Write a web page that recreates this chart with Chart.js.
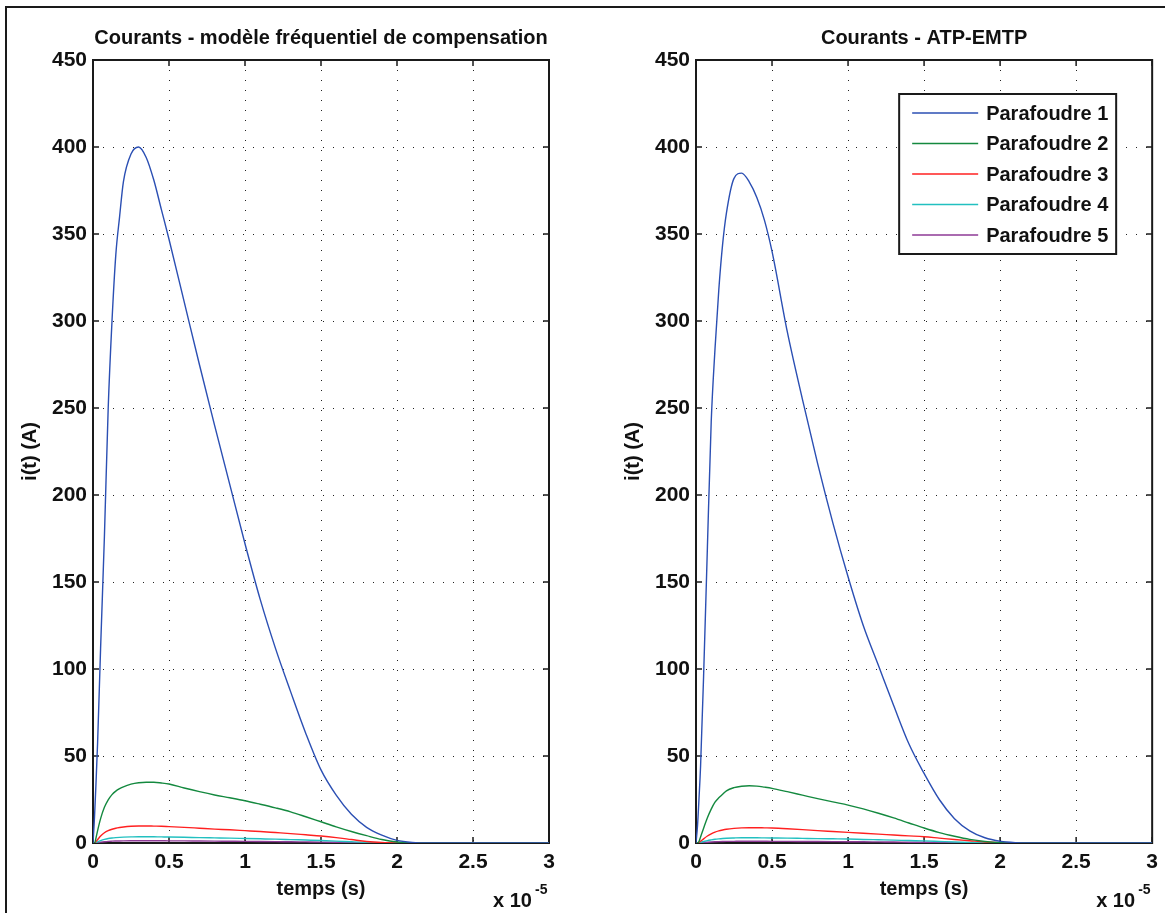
<!DOCTYPE html>
<html>
<head>
<meta charset="utf-8">
<script src="https://cdn.jsdelivr.net/npm/chart.js@4/dist/chart.umd.min.js"></script>
<style>
  html, body { margin: 0; padding: 0; background: #fff; }
  body { width: 1165px; height: 913px; position: relative; overflow: hidden; }
  #frame { position: absolute; left: 5px; top: 6px; width: 1200px; height: 1000px;
           border-top: 2px solid #1a1a1a; border-left: 2px solid #1a1a1a; }
  .pane { position: absolute; top: 0; height: 913px; }
  #left { left: 0; width: 600px; }
  #right { left: 600px; width: 565px; }
</style>
</head>
<body>
<div id="frame"></div>
<div class="pane" id="left"><canvas id="c1"></canvas></div>
<div class="pane" id="right"><canvas id="c2"></canvas></div>
<script>
// temps en unités de 1e-5 s
const temps = [0, 0.01, 0.02, 0.03, 0.05, 0.075, 0.1, 0.125, 0.15, 0.175, 0.2, 0.25, 0.3, 0.35, 0.4, 0.45, 0.5,
  0.6, 0.7, 0.8, 0.9, 1.0, 1.1, 1.2, 1.3, 1.4, 1.5, 1.6, 1.7, 1.8, 1.9, 2.0, 2.1, 2.2, 3.0];

const noms = ["Parafoudre 1", "Parafoudre 2", "Parafoudre 3", "Parafoudre 4", "Parafoudre 5"];
const couleurs = ["#2b4fb3", "#14893f", "#ff2020", "#22c0c0", "#8e3a96"];

// modèle fréquentiel de compensation
const freqP1 = [0, 15, 35, 57, 112, 176, 250, 300, 338, 360, 380, 396, 400, 394, 381, 364, 347,
  311, 275, 240, 206, 172, 140, 112, 87, 63, 42, 27.5, 16.5, 9, 4.5, 1.5, 0.3, 0, 0];
const freqP2 = [0, 0, 3, 7, 14, 20.5, 24.8, 27.8, 29.8, 31.2, 32.3, 33.8, 34.6, 34.9, 34.9, 34.5, 33.9,
  31.6, 29.5, 27.6, 26.0, 24.3, 22.3, 20.2, 17.9, 15.1, 12.2, 9.3, 6.6, 4.2, 2.0, 0.6, 0.1, 0, 0];
const freqP3 = [0, 0, 0.8, 1.9, 4.0, 5.9, 7.1, 7.9, 8.5, 8.9, 9.2, 9.6, 9.8, 9.8, 9.7, 9.6, 9.4,
  9.0, 8.5, 8.0, 7.6, 7.1, 6.6, 6.0, 5.4, 4.7, 4.0, 3.1, 2.0, 0.9, 0.3, 0.05, 0, 0, 0];
const freqP4 = [0, 0, 0.3, 0.7, 1.4, 2.1, 2.6, 2.9, 3.1, 3.25, 3.35, 3.5, 3.6, 3.6, 3.55, 3.5, 3.45,
  3.3, 3.1, 2.95, 2.8, 2.6, 2.4, 2.2, 1.95, 1.7, 1.45, 1.1, 0.7, 0.35, 0.15, 0.05, 0, 0, 0];
const freqP5 = [0, 0, 0.1, 0.25, 0.5, 0.75, 0.95, 1.05, 1.12, 1.18, 1.22, 1.27, 1.3, 1.3, 1.29, 1.27, 1.25,
  1.2, 1.13, 1.07, 1.01, 0.95, 0.88, 0.8, 0.7, 0.62, 0.53, 0.4, 0.26, 0.13, 0.05, 0.02, 0, 0, 0];

// ATP-EMTP
const atpP1 = [0, 10, 26, 44, 96, 170, 242, 284, 318, 344, 362, 382, 385, 380, 371, 358, 340,
  294, 255, 218, 184, 153, 125, 102, 79, 57, 40, 25, 14, 7, 3, 1, 0.2, 0, 0];
const atpP2 = [0, 0, 1, 3.5, 8.5, 14.5, 19.5, 23.5, 26, 28, 30, 31.8, 32.6, 32.9, 32.7, 32.1, 31.4,
  29.5, 27.5, 25.5, 23.6, 21.8, 19.6, 17.1, 14.4, 11.5, 8.6, 6.0, 3.9, 2.1, 0.9, 0.2, 0, 0, 0];
const atpP3 = [0, 0, 0.4, 1.0, 2.4, 4, 5.3, 6.3, 7, 7.5, 7.9, 8.4, 8.7, 8.8, 8.8, 8.7, 8.6,
  8.2, 7.7, 7.1, 6.6, 6.1, 5.6, 5.1, 4.6, 4.1, 3.6, 2.8, 2.0, 1.3, 0.6, 0.2, 0, 0, 0];
const atpP4 = [0, 0, 0.15, 0.4, 0.85, 1.4, 1.8, 2.15, 2.4, 2.6, 2.75, 2.9, 3.0, 3.0, 3.0, 2.95, 2.9,
  2.8, 2.65, 2.5, 2.4, 2.3, 2.05, 1.85, 1.65, 1.4, 1.2, 0.9, 0.6, 0.35, 0.15, 0.05, 0, 0, 0];
const atpP5 = [0, 0, 0.05, 0.12, 0.28, 0.45, 0.6, 0.72, 0.8, 0.86, 0.91, 0.96, 1.0, 1.0, 1.0, 0.98, 0.96,
  0.93, 0.88, 0.83, 0.79, 0.75, 0.69, 0.62, 0.55, 0.47, 0.4, 0.3, 0.2, 0.12, 0.05, 0.02, 0, 0, 0];

const FONT = '"Liberation Sans", Arial, Helvetica, sans-serif';

function makeDatasets(series) {
  return series.map((vals, i) => ({
    label: noms[i],
    data: temps.map((t, k) => ({ x: t, y: vals[k] })),
    borderColor: couleurs[i],
    borderWidth: 1.4,
    pointRadius: 0,
    fill: false,
    cubicInterpolationMode: "monotone",
  }));
}

// boîte, graduations vers l'intérieur, titre, facteur x10^-5 et légende
const matlabAxes = {
  id: "matlabAxes",
  beforeDatasetsDraw(chart) {
    const { ctx, chartArea: a, scales: { x, y } } = chart;
    ctx.save();
    ctx.strokeStyle = "#1a1a1a";
    ctx.lineWidth = 1.5;
    ctx.beginPath();
    x.ticks.forEach((t) => {
      const px = x.getPixelForValue(t.value);
      ctx.moveTo(px, a.bottom); ctx.lineTo(px, a.bottom - 6);
      ctx.moveTo(px, a.top); ctx.lineTo(px, a.top + 6);
    });
    y.ticks.forEach((t) => {
      const py = y.getPixelForValue(t.value);
      ctx.moveTo(a.left, py); ctx.lineTo(a.left + 6, py);
      ctx.moveTo(a.right, py); ctx.lineTo(a.right - 6, py);
    });
    ctx.stroke();
    ctx.lineWidth = 2;
    ctx.strokeRect(a.left, a.top, a.right - a.left, a.bottom - a.top);
    ctx.restore();
  },
  afterDraw(chart, args, opts) {
    const { ctx, chartArea: a } = chart;
    ctx.save();
    ctx.fillStyle = "#111";
    ctx.font = `bold 20px ${FONT}`;
    ctx.textAlign = "center";
    ctx.textBaseline = "alphabetic";
    ctx.fillText(opts.titre, (a.left + a.right) / 2, a.top - 16);

    ctx.textAlign = "left";
    ctx.fillText("x 10", a.right - 56, a.bottom + 64);
    ctx.font = `bold 14px ${FONT}`;
    ctx.fillText("-5", a.right - 14, a.bottom + 51);

    if (opts.legende) {
      const bx = a.right - 253, by = a.top + 34, bw = 217, bh = 160;
      ctx.fillStyle = "#fff";
      ctx.fillRect(bx, by, bw, bh);
      ctx.strokeStyle = "#1a1a1a";
      ctx.lineWidth = 2;
      ctx.strokeRect(bx, by, bw, bh);
      ctx.font = `bold 20px ${FONT}`;
      ctx.textBaseline = "middle";
      chart.data.datasets.forEach((ds, i) => {
        const ry = by + 19 + i * 30.5;
        ctx.strokeStyle = ds.borderColor;
        ctx.lineWidth = 1.5;
        ctx.beginPath();
        ctx.moveTo(bx + 13, ry); ctx.lineTo(bx + 79, ry);
        ctx.stroke();
        ctx.fillStyle = "#111";
        ctx.fillText(ds.label, bx + 87, ry + 1);
      });
    }
    ctx.restore();
  },
};

function makeChart(id, series, titre, legende, yWidth, padRight, yTitlePad) {
  return new Chart(document.getElementById(id), {
    type: "line",
    data: { datasets: makeDatasets(series) },
    plugins: [matlabAxes],
    options: {
      responsive: true,
      maintainAspectRatio: false,
      animation: false,
      layout: { padding: { left: 0, top: 60, right: padRight, bottom: 10 } },
      plugins: {
        legend: { display: false },
        tooltip: { enabled: false },
        matlabAxes: { titre, legende },
      },
      scales: {
        x: {
          type: "linear",
          min: 0,
          max: 3,
          afterFit: (s) => { s.height = 60; },
          ticks: {
            stepSize: 0.5,
            autoSkip: false,
            maxRotation: 0,
            padding: 7,
            color: "#111",
            font: { family: FONT, size: 21, weight: "bold" },
            callback: (v) => String(Math.round(v * 10) / 10),
          },
          grid: { color: "#222", drawTicks: false, lineWidth: 1 },
          border: { display: false, dash: [1, 9] },
          title: {
            display: true,
            text: "temps (s)",
            color: "#111",
            font: { family: FONT, size: 20, weight: "bold" },
            padding: { top: 0, bottom: 2 },
          },
        },
        y: {
          min: 0,
          max: 450,
          afterFit: (s) => { s.width = yWidth; },
          ticks: {
            stepSize: 50,
            autoSkip: false,
            padding: 6,
            color: "#111",
            font: { family: FONT, size: 21, weight: "bold" },
          },
          grid: { color: "#222", drawTicks: false, lineWidth: 1 },
          border: { display: false, dash: [1, 9] },
          title: {
            display: true,
            text: "i(t) (A)",
            color: "#111",
            font: { family: FONT, size: 20, weight: "bold" },
            padding: { top: yTitlePad, bottom: 0 },
          },
        },
      },
    },
  });
}

makeChart("c1", [freqP1, freqP2, freqP3, freqP4, freqP5],
  "Courants - modèle fréquentiel de compensation", false, 93, 51, 18);
makeChart("c2", [atpP1, atpP2, atpP3, atpP4, atpP5],
  "Courants - ATP-EMTP", true, 96, 12, 21);
</script>
</body>
</html>
